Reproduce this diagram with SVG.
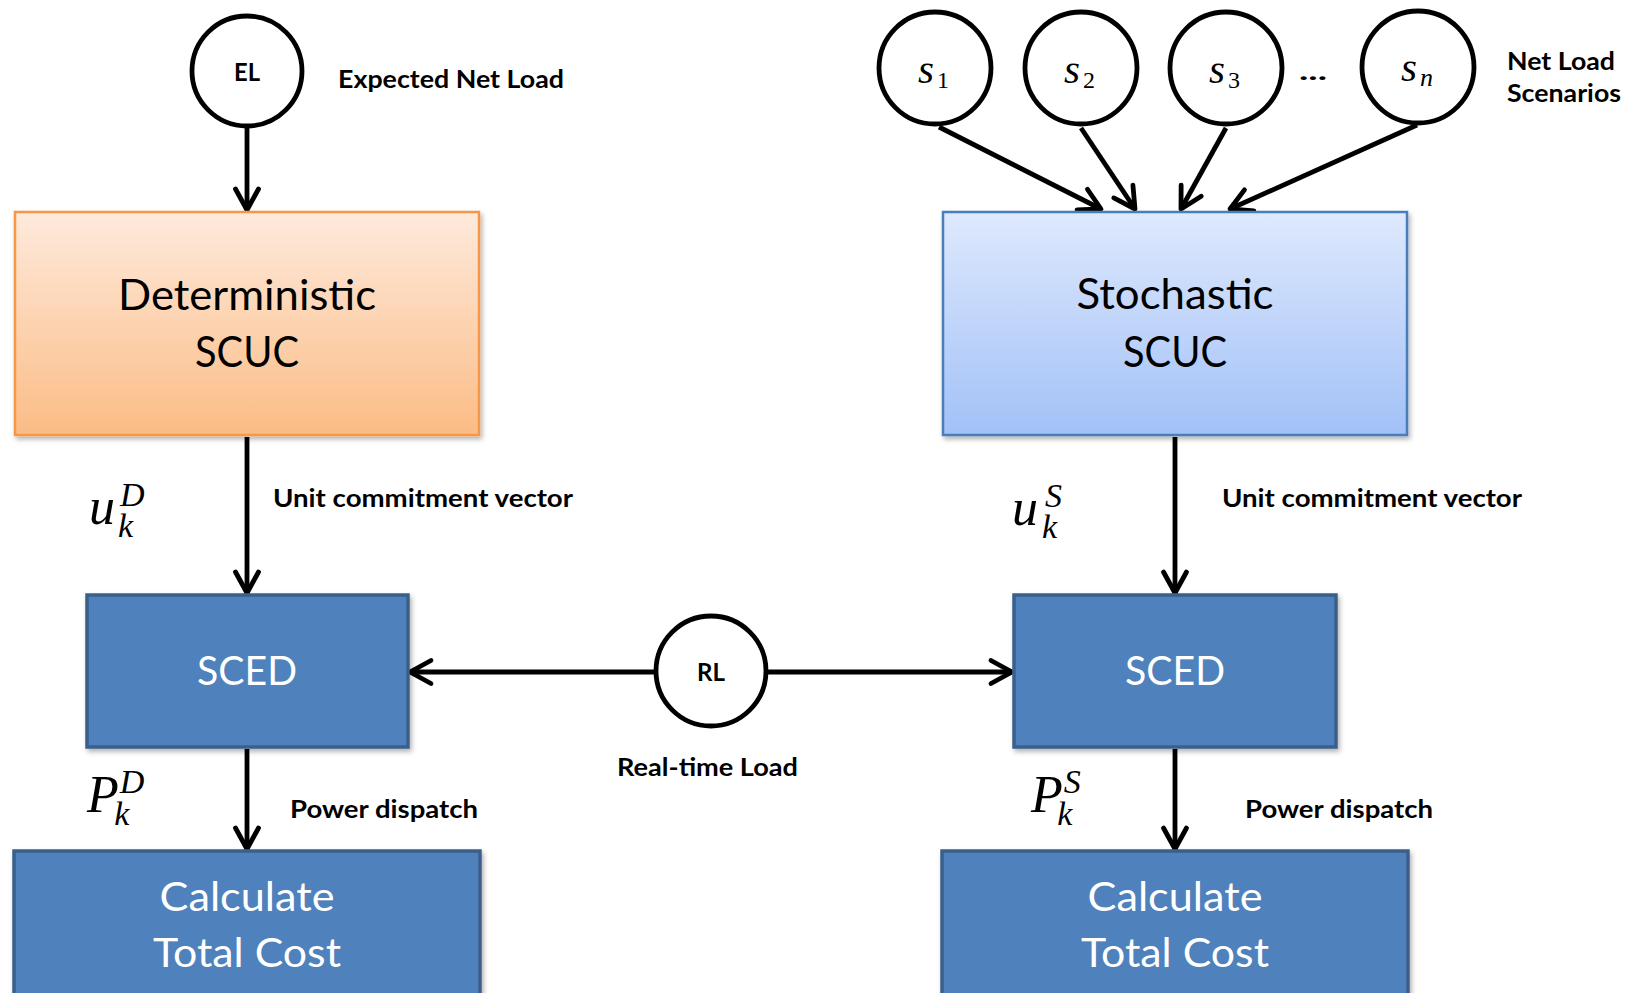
<svg xmlns="http://www.w3.org/2000/svg" width="1626" height="993" viewBox="0 0 1626 993">
<style>
.lbl{font-family:Lato,"Open Sans","Liberation Sans",sans-serif;font-weight:bold;font-size:25px;fill:#000}
.big{font-family:Lato,"Open Sans","Liberation Sans",sans-serif;font-size:43px;fill:#000;text-anchor:middle}
.wt{font-family:Lato,"Open Sans","Liberation Sans",sans-serif;font-size:40px;fill:#fff;text-anchor:middle}
.circ{fill:#fff;stroke:#000;stroke-width:4.8}
.ctext{font-family:Lato,"Open Sans","Liberation Sans",sans-serif;font-weight:bold;font-size:25px;text-anchor:middle}
.math{font-family:"Liberation Serif","DejaVu Serif",serif;font-style:italic;fill:#000}
.up{font-style:normal}
.blue{fill:#4F81BD;stroke:#3A5F8C;stroke-width:3.5}
.conn{stroke:#000;stroke-width:4.8;fill:none;marker-end:url(#arr)}
</style>
<defs>
<linearGradient id="gOr" x1="0" y1="0" x2="0" y2="1">
<stop offset="0" stop-color="#FEEADC"/>
<stop offset="1" stop-color="#FBBC85"/>
</linearGradient>
<linearGradient id="gBl" x1="0" y1="0" x2="0" y2="1">
<stop offset="0" stop-color="#DEE9FD"/>
<stop offset="1" stop-color="#A2C1F7"/>
</linearGradient>
<filter id="sh" x="-10%" y="-10%" width="120%" height="120%">
<feDropShadow dx="2" dy="3" stdDeviation="2.5" flood-color="#000" flood-opacity="0.3"/>
</filter>
<marker id="arr" markerUnits="userSpaceOnUse" viewBox="-30 -20 40 40" markerWidth="40" markerHeight="40" refX="-2" refY="0" orient="auto" overflow="visible">
<path d="M -23 -11.5 L -2 0 L -23 11.5" fill="none" stroke="#000" stroke-width="4.8" stroke-linecap="round" stroke-linejoin="round"/>
</marker>
</defs>
<rect width="1626" height="993" fill="#fff"/>

<g id="connectors">
<line class="conn" x1="247" y1="127" x2="247" y2="210"/>
<line class="conn" x1="939" y1="127" x2="1101" y2="209"/>
<line class="conn" x1="1081" y1="128" x2="1135" y2="209"/>
<line class="conn" x1="1226" y1="128" x2="1181" y2="209"/>
<line class="conn" x1="1417" y1="125" x2="1230" y2="209"/>
<line class="conn" x1="247" y1="437" x2="247" y2="593"/>
<line class="conn" x1="1175" y1="437" x2="1175" y2="593"/>
<line class="conn" x1="247" y1="749" x2="247" y2="849"/>
<line class="conn" x1="1175" y1="749" x2="1175" y2="849"/>
<line class="conn" x1="655" y1="672" x2="410" y2="672"/>
<line class="conn" x1="767" y1="672" x2="1012" y2="672"/>
</g>

<g id="EL">
<circle class="circ" cx="247" cy="71" r="55"/>
<text class="ctext" x="247" y="81" textLength="26" lengthAdjust="spacingAndGlyphs">EL</text>
</g>
<text class="lbl" x="338" y="88" textLength="226" lengthAdjust="spacingAndGlyphs">Expected Net Load</text>

<g id="S1">
<circle class="circ" cx="935" cy="68" r="56"/>
<text class="math" x="918" y="83" font-size="41">s<tspan class="up" font-size="24" dx="3" dy="5">1</tspan></text>
</g>
<g id="S2">
<circle class="circ" cx="1081" cy="68" r="56"/>
<text class="math" x="1064" y="83" font-size="41">s<tspan class="up" font-size="24" dx="3" dy="5">2</tspan></text>
</g>
<g id="S3">
<circle class="circ" cx="1226" cy="68" r="56"/>
<text class="math" x="1209" y="83" font-size="41">s<tspan class="up" font-size="24" dx="3" dy="5">3</tspan></text>
</g>
<text class="ctext" x="1313" y="80" font-size="40" textLength="28" lengthAdjust="spacingAndGlyphs">...</text>
<g id="Sn">
<circle class="circ" cx="1418" cy="67" r="56"/>
<text class="math" x="1401" y="81" font-size="41">s<tspan font-size="26" dx="3" dy="5">n</tspan></text>
</g>
<text class="lbl" x="1507" y="70" textLength="108" lengthAdjust="spacingAndGlyphs">Net Load</text>
<text class="lbl" x="1507" y="102" textLength="114" lengthAdjust="spacingAndGlyphs">Scenarios</text>

<g id="DetSCUC">
<rect x="15" y="212" width="464" height="223" fill="url(#gOr)" stroke="#F79646" stroke-width="2.5" filter="url(#sh)"/>
<text class="big" x="247" y="310" textLength="258" lengthAdjust="spacingAndGlyphs">Deterministic</text>
<text class="big" x="247" y="367" textLength="104" lengthAdjust="spacingAndGlyphs">SCUC</text>
</g>
<g id="StoSCUC">
<rect x="943" y="212" width="464" height="223" fill="url(#gBl)" stroke="#4A7EBB" stroke-width="2.5" filter="url(#sh)"/>
<text class="big" x="1175" y="309" textLength="197" lengthAdjust="spacingAndGlyphs">Stochastic</text>
<text class="big" x="1175" y="367" textLength="104" lengthAdjust="spacingAndGlyphs">SCUC</text>
</g>

<text class="math" x="89" y="524" font-size="52">u<tspan font-size="34" dx="3" dy="13">k</tspan><tspan font-size="34" dx="-13" dy="-31">D</tspan></text>
<text class="lbl" x="273" y="507" textLength="300" lengthAdjust="spacingAndGlyphs">Unit commitment vector</text>

<text class="math" x="1012" y="525" font-size="52">u<tspan font-size="34" dx="4" dy="13">k</tspan><tspan font-size="34" dx="-12" dy="-31">S</tspan></text>
<text class="lbl" x="1222" y="507" textLength="300" lengthAdjust="spacingAndGlyphs">Unit commitment vector</text>

<g id="SCED1">
<rect class="blue" x="87" y="595" width="321" height="152" filter="url(#sh)"/>
<text class="wt" x="247" y="685" textLength="100" lengthAdjust="spacingAndGlyphs">SCED</text>
</g>
<g id="SCED2">
<rect class="blue" x="1014" y="595" width="322" height="152" filter="url(#sh)"/>
<text class="wt" x="1175" y="685" textLength="100" lengthAdjust="spacingAndGlyphs">SCED</text>
</g>

<g id="RL">
<circle class="circ" cx="711" cy="671" r="55"/>
<text class="ctext" x="711" y="681" textLength="28" lengthAdjust="spacingAndGlyphs">RL</text>
</g>
<text class="lbl" x="617" y="776" textLength="181" lengthAdjust="spacingAndGlyphs">Real-time Load</text>

<text class="math" x="87" y="812" font-size="52">P<tspan font-size="34" dx="-4.5" dy="13">k</tspan><tspan font-size="34" dx="-9.7" dy="-32">D</tspan></text>
<text class="lbl" x="290" y="818" textLength="188" lengthAdjust="spacingAndGlyphs">Power dispatch</text>

<text class="math" x="1031" y="812" font-size="52">P<tspan font-size="34" dx="-5.5" dy="13">k</tspan><tspan font-size="34" dx="-8.7" dy="-32">S</tspan></text>
<text class="lbl" x="1245" y="818" textLength="188" lengthAdjust="spacingAndGlyphs">Power dispatch</text>

<g id="Calc1">
<rect class="blue" x="14" y="851" width="466" height="170" filter="url(#sh)"/>
<text class="wt" x="247" y="911" textLength="175" lengthAdjust="spacingAndGlyphs">Calculate</text>
<text class="wt" x="247" y="967" textLength="188" lengthAdjust="spacingAndGlyphs">Total Cost</text>
</g>
<g id="Calc2">
<rect class="blue" x="942" y="851" width="466" height="170" filter="url(#sh)"/>
<text class="wt" x="1175" y="911" textLength="175" lengthAdjust="spacingAndGlyphs">Calculate</text>
<text class="wt" x="1175" y="967" textLength="188" lengthAdjust="spacingAndGlyphs">Total Cost</text>
</g>
</svg>
